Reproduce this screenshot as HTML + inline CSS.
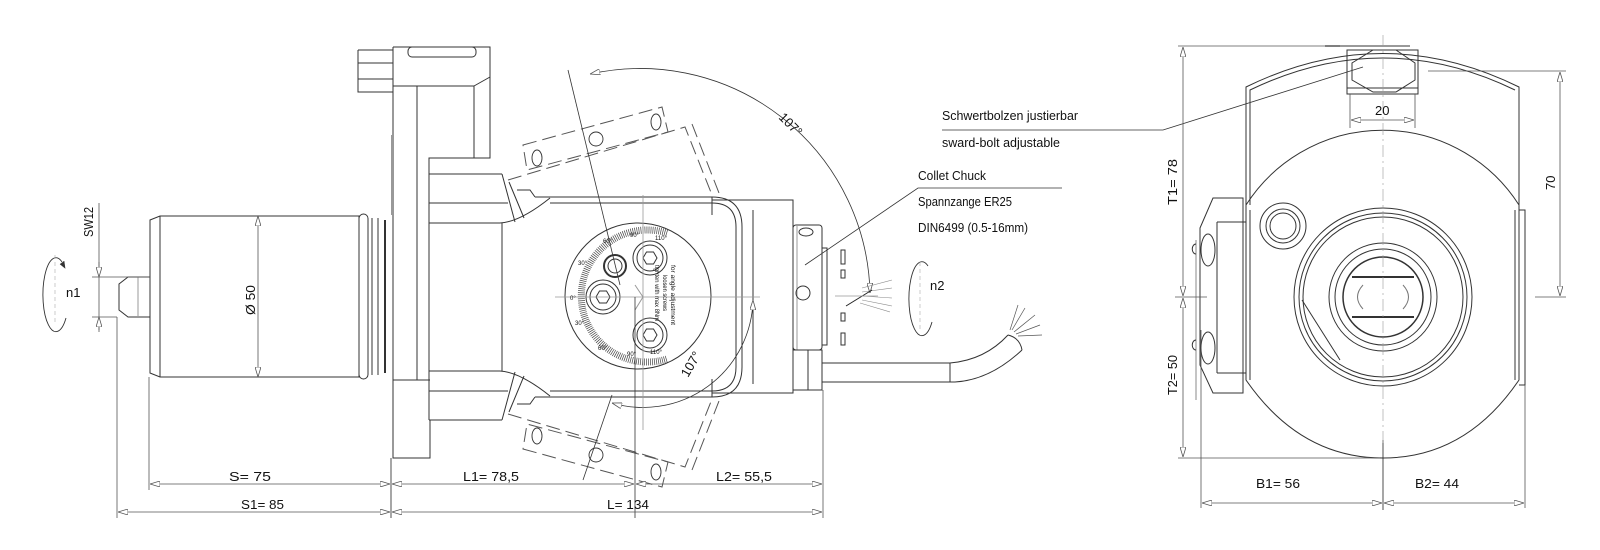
<!DOCTYPE html>
<html><head><meta charset="utf-8"><style>
html,body{margin:0;padding:0;background:#fff}
svg{display:block}
text{font-family:"Liberation Sans",sans-serif;fill:#111}
</style></head><body>
<svg width="1600" height="550" viewBox="0 0 1600 550" xmlns="http://www.w3.org/2000/svg">
<defs>
<marker id="ar" viewBox="0 0 10 6" refX="10" refY="3" markerWidth="10" markerHeight="6" orient="auto-start-reverse" markerUnits="userSpaceOnUse"><path d="M0,0 L10,3 L0,6 Z" fill="#fff" stroke="#555" stroke-width="0.8"/></marker>
</defs>
<g fill="none" stroke="#333" stroke-width="1">
<!-- shaft -->
<path d="M150,277 H128 L119,284 V310 L128,317 H150"/>
<line x1="138" y1="277" x2="138" y2="317" stroke="#999"/>
<!-- cylinder -->
<path d="M160,216 H359 V377 H160 L150,373 V220 Z"/>
<line x1="160" y1="216" x2="160" y2="377"/>
<rect x="359" y="214" width="9" height="165" rx="4.5"/>
<line x1="372" y1="218" x2="372" y2="375"/><line x1="378" y1="218" x2="378" y2="375"/>
<line x1="385" y1="220" x2="385" y2="373" stroke-width="2"/>
<!-- flange -->
<path d="M393,47 H490 V158 H429 V174 H502 M393,47 V458 H430 V420"/>
<path d="M358,50 H393 M358,50 V92 H393 M358,63 H393 M358,79 H393"/>
<line x1="392" y1="135" x2="392" y2="215" stroke="#999" stroke-width="2"/>
<rect x="408" y="47" width="68" height="10" rx="4"/>
<path d="M393,86 H474 V158 M474,86 L490,77"/>
<line x1="417" y1="86" x2="417" y2="380"/>
<line x1="393" y1="380" x2="430" y2="380"/>
<line x1="429" y1="174" x2="429" y2="420"/>
<!-- neck -->
<path d="M429,203 H508 M429,223 H500 Q520,222 550,198 M429,371 H500 Q520,372 550,396 M429,391 H508 M429,420 H502"/>
<path d="M502,174 L515,222 M502,420 L515,372 M517,190 H530 L535,197 M517,404 H530 L535,397 M502,223 V371"/>
<path d="M509,182 L524,218 M509,412 L524,376"/>
<!-- head -->
<path d="M535,197 H712 Q742,197 742,227 V367 Q742,397 712,397 H535"/>
<path d="M550,203 H712 Q736,203 736,227 V367 Q736,391 712,391 H550"/>
<path d="M712,200 H793 V393 H712 M753,210 V384"/>
<line x1="712" y1="197" x2="712" y2="215"/><line x1="712" y1="379" x2="712" y2="397"/>
<!-- collet nut -->
<rect x="793" y="225" width="29" height="125" rx="3"/>
<line x1="797" y1="225" x2="797" y2="350" stroke="#999"/>
<ellipse cx="806" cy="232" rx="7" ry="4"/>
<circle cx="803" cy="293" r="7"/>
<rect x="822" y="248" width="5" height="97"/>
<path d="M841,250 h4 v14 h-4 z M841,270 h4 v8 h-4 z M841,313 h4 v8 h-4 z M841,333 h4 v12 h-4 z"/>
<!-- cable -->
<path d="M793,350 H822 V390 H793 Z M808,350 V390"/>
<path d="M822,363 H950 Q985,360 1008,335 M822,382 H955 Q990,380 1022,350 M950,363 V382"/>
<path d="M1008,335 Q1020,338 1022,350"/>
<g stroke="#555" stroke-width="0.7"><line x1="1010" y1="330" x2="1018" y2="305"/><line x1="1012" y1="330" x2="1025" y2="308"/><line x1="1014" y1="332" x2="1035" y2="315"/><line x1="1016" y1="334" x2="1040" y2="325"/><line x1="1018" y1="336" x2="1042" y2="335"/></g>
<!-- dial -->
<circle cx="638" cy="296" r="73"/>
<path d="M667,233 A66,66 0 1 0 667,359" stroke-width="7" stroke-dasharray="0.7 1.3" stroke="#444"/>
<g>
<circle cx="650" cy="258" r="17"/><circle cx="650" cy="258" r="13"/><path d="M643,258 l3.5,-6 h7 l3.5,6 l-3.5,6 h-7 z"/>
<circle cx="603" cy="297" r="17"/><circle cx="603" cy="297" r="13"/><path d="M596,297 l3.5,-6 h7 l3.5,6 l-3.5,6 h-7 z"/>
<circle cx="650" cy="335" r="17"/><circle cx="650" cy="335" r="13"/><path d="M643,335 l3.5,-6 h7 l3.5,6 l-3.5,6 h-7 z"/>
<circle cx="615" cy="266" r="11" stroke-width="2"/><circle cx="615" cy="266" r="7"/>
</g>
<path d="M643,297 L635,285 M643,297 L635,310" stroke="#999"/>
<!-- dashed swung heads -->
<g stroke="#555" stroke-dasharray="14 6">
<path d="M523,145 L662,107 L668,132 L527,170 Z"/>
<path d="M508,180 L685,127 L712,195 M692,124 L719,193"/>
<path d="M523,449 L662,487 L668,462 L527,424 Z"/>
<path d="M508,414 L685,467 L712,399 M692,470 L719,401"/>
</g>
<g stroke-width="0.9"><ellipse cx="537" cy="158" rx="5" ry="8"/><circle cx="596" cy="139" r="7"/><ellipse cx="656" cy="122" rx="5" ry="8"/>
<ellipse cx="537" cy="436" rx="5" ry="8"/><circle cx="596" cy="455" r="7"/><ellipse cx="656" cy="472" rx="5" ry="8"/></g>
<!-- 107 arcs -->
<path d="M590,74 A230,230 0 0 1 870,293" stroke-width="0.8" marker-start="url(#ar)" marker-end="url(#ar)"/>
<line x1="568" y1="70" x2="620" y2="285" stroke-width="0.8"/>
<path d="M753,300 A110,110 0 0 1 612,403" stroke-width="0.8" marker-start="url(#ar)" marker-end="url(#ar)"/>
<line x1="583" y1="480" x2="612" y2="395" stroke-width="0.8"/>
<g stroke="#888" stroke-width="0.6"><line x1="862" y1="288" x2="892" y2="280"/><line x1="862" y1="292" x2="892" y2="288"/><line x1="862" y1="296" x2="892" y2="298"/><line x1="862" y1="300" x2="892" y2="306"/><line x1="860" y1="303" x2="890" y2="312"/></g>
<line x1="846" y1="306" x2="872" y2="290" stroke="#222"/>
<!-- center lines -->
<g stroke="#999" stroke-width="0.8">
<line x1="555" y1="297" x2="760" y2="297"/>
<line x1="835" y1="296" x2="878" y2="296"/>
<line x1="643" y1="195" x2="643" y2="430"/>
</g>
<line x1="635" y1="297" x2="635" y2="518" stroke-width="0.8"/>
<!-- leaders -->
<path d="M805,265 L918,188 H1062" stroke-width="0.8"/>
<path d="M942,130 H1163 L1363,67" stroke-width="0.8"/>
<!-- n symbols -->
<path d="M62,262 A13,37 0 1 0 66,318" stroke-width="0.9"/><path d="M60,264 l5,4 l-1,-7" fill="#333" stroke-width="0.6"/>
<line x1="55" y1="255" x2="55" y2="325" stroke="#aaa" stroke-dasharray="4 3" stroke-width="0.6"/>
<path d="M928,266 A13,37 0 1 0 932,322" stroke-width="0.9"/>
<line x1="920" y1="262" x2="920" y2="330" stroke="#aaa" stroke-dasharray="4 3" stroke-width="0.6"/>
<!-- dimensions left -->
<g stroke="#555" stroke-width="0.8">
<line x1="99" y1="203" x2="99" y2="330"/>
<line x1="99" y1="262" x2="99" y2="277" marker-end="url(#ar)"/>
<line x1="99" y1="332" x2="99" y2="317" marker-end="url(#ar)"/>
<line x1="92" y1="277" x2="150" y2="277"/><line x1="92" y1="317" x2="117" y2="317"/>
<line x1="258" y1="216" x2="258" y2="377" marker-start="url(#ar)" marker-end="url(#ar)"/>
<line x1="149" y1="377" x2="149" y2="490"/>
<line x1="117" y1="317" x2="117" y2="518"/>
<line x1="391" y1="458" x2="391" y2="518" stroke="#222"/>
<line x1="823" y1="390" x2="823" y2="518"/>
<line x1="150" y1="484" x2="390" y2="484" marker-start="url(#ar)" marker-end="url(#ar)"/>
<line x1="118" y1="512" x2="390" y2="512" marker-start="url(#ar)" marker-end="url(#ar)"/>
<line x1="392" y1="484" x2="634" y2="484" marker-start="url(#ar)" marker-end="url(#ar)"/>
<line x1="636" y1="484" x2="822" y2="484" marker-start="url(#ar)" marker-end="url(#ar)"/>
<line x1="392" y1="512" x2="822" y2="512" marker-start="url(#ar)" marker-end="url(#ar)"/>
</g>
<!-- RIGHT VIEW -->
<path d="M1246,205 V87 Q1383,20 1519,87 V205"/>
<path d="M1250,205 V90 Q1383,26 1515,90"/>
<rect x="1347" y="50" width="71" height="44"/>
<line x1="1347" y1="88" x2="1418" y2="88"/>
<path d="M1373,50 H1396 L1415,63 V80 L1396,92 H1373 L1352,80 V63 Z"/>
<line x1="1325" y1="46" x2="1410" y2="46" stroke="#999" stroke-width="2"/>
<path d="M1246,205 A162,162 0 0 1 1519,205"/>
<path d="M1246,205 V380 Q1300,458 1383,458 Q1466,458 1519,380 V205"/>
<path d="M1250,210 V380"/><path d="M1515,210 V380"/>
<circle cx="1383" cy="297" r="89"/><circle cx="1383" cy="297" r="84"/><circle cx="1383" cy="297" r="80"/>
<circle cx="1383" cy="297" r="54"/><circle cx="1383" cy="297" r="48"/><circle cx="1383" cy="297" r="40" stroke-width="1.5"/>
<path d="M1352,277 H1414 M1352,317 H1414" stroke-width="2"/>
<path d="M1363,285 Q1352,297 1363,309 M1403,285 Q1414,297 1403,309" stroke="#777"/>
<line x1="1302" y1="300" x2="1340" y2="360"/>
<circle cx="1283" cy="226" r="23"/><circle cx="1283" cy="226" r="17"/><circle cx="1283" cy="226" r="13"/>
<!-- left block -->
<path d="M1213,198 H1243 V393 H1213 L1200,365 V228 Z"/>
<path d="M1217,222 H1246 M1217,373 H1246 M1217,222 V373"/>
<ellipse cx="1208" cy="250" rx="7" ry="16"/><ellipse cx="1208" cy="348" rx="7" ry="16"/>
<path d="M1196,240 V400" stroke="#888"/>
<path d="M1196,244 a3,4 0 0 0 0,10 M1196,340 a3,4 0 0 0 0,10"/>
<path d="M1519,210 H1525 V385 H1519"/>
<!-- right dims -->
<g stroke="#555" stroke-width="0.8">
<line x1="1178" y1="46" x2="1340" y2="46"/>
<line x1="1178" y1="458" x2="1380" y2="458"/>
<line x1="1183" y1="47" x2="1183" y2="296" marker-start="url(#ar)" marker-end="url(#ar)"/>
<line x1="1183" y1="298" x2="1183" y2="457" marker-start="url(#ar)" marker-end="url(#ar)"/>
<line x1="1175" y1="297" x2="1207" y2="297"/>
<line x1="1560" y1="72" x2="1560" y2="296" marker-start="url(#ar)" marker-end="url(#ar)"/>
<line x1="1428" y1="71" x2="1566" y2="71"/><line x1="1535" y1="297" x2="1566" y2="297"/>
<line x1="1350" y1="94" x2="1350" y2="128"/><line x1="1415" y1="94" x2="1415" y2="128"/>
<line x1="1351" y1="120" x2="1414" y2="120" marker-start="url(#ar)" marker-end="url(#ar)"/>
<line x1="1201" y1="330" x2="1201" y2="508"/><line x1="1525" y1="385" x2="1525" y2="508"/>
<line x1="1383" y1="440" x2="1383" y2="510" stroke="#222"/>
<line x1="1202" y1="503" x2="1382" y2="503" marker-start="url(#ar)" marker-end="url(#ar)"/>
<line x1="1384" y1="503" x2="1524" y2="503" marker-start="url(#ar)" marker-end="url(#ar)"/>
</g>
<line x1="1383" y1="35" x2="1383" y2="445" stroke="#999" stroke-width="0.6" stroke-dasharray="12 4 2 4"/>
</g>
<!-- TEXT -->
<g font-size="13">
<text x="229" y="481" textLength="42" lengthAdjust="spacingAndGlyphs">S= 75</text>
<text x="241" y="509" textLength="43" lengthAdjust="spacingAndGlyphs">S1= 85</text>
<text x="463" y="481" textLength="56" lengthAdjust="spacingAndGlyphs">L1=   78,5</text>
<text x="716" y="481" textLength="56" lengthAdjust="spacingAndGlyphs">L2=   55,5</text>
<text x="607" y="509" textLength="42" lengthAdjust="spacingAndGlyphs">L=   134</text>
<text x="1256" y="488" textLength="44" lengthAdjust="spacingAndGlyphs">B1=   56</text>
<text x="1415" y="488" textLength="44" lengthAdjust="spacingAndGlyphs">B2=   44</text>
<text x="1375" y="115">20</text>
<text x="66" y="297">n1</text>
<text x="930" y="290">n2</text>
<text transform="translate(93,237) rotate(-90)" textLength="30" lengthAdjust="spacingAndGlyphs">SW12</text>
<text transform="translate(255,315) rotate(-90)" textLength="30" lengthAdjust="spacingAndGlyphs">Ø 50</text>
<text transform="translate(1177,205) rotate(-90)" textLength="46" lengthAdjust="spacingAndGlyphs">T1=    78</text>
<text transform="translate(1177,395) rotate(-90)" textLength="40" lengthAdjust="spacingAndGlyphs">T2=  50</text>
<text transform="translate(1555,190) rotate(-90)">70</text>
<text transform="translate(778,118) rotate(45)">107°</text>
<text transform="translate(688,378) rotate(-60)">107°</text>
<text x="942" y="120" textLength="136" lengthAdjust="spacingAndGlyphs">Schwertbolzen justierbar</text>
<text x="942" y="147" textLength="118" lengthAdjust="spacingAndGlyphs">sward-bolt adjustable</text>
<text x="918" y="180" textLength="68" lengthAdjust="spacingAndGlyphs">Collet Chuck</text>
<text x="918" y="206" textLength="94" lengthAdjust="spacingAndGlyphs">Spannzange ER25</text>
<text x="918" y="232" textLength="110" lengthAdjust="spacingAndGlyphs">DIN6499 (0.5-16mm)</text>
</g>
<g font-size="6">
<text x="603" y="243">60°</text><text x="630" y="237">90°</text><text x="655" y="240">110°</text>
<text x="578" y="265">30°</text><text x="570" y="300">0°</text><text x="575" y="325">30°</text>
<text x="598" y="350">60°</text><text x="627" y="356">90°</text><text x="650" y="354">110°</text>
<text transform="translate(671,265) rotate(90)" textLength="60" lengthAdjust="spacingAndGlyphs">for angle adjustment</text>
<text transform="translate(663,275) rotate(90)" textLength="36" lengthAdjust="spacingAndGlyphs">loosen screws</text>
<text transform="translate(655,265) rotate(90)" textLength="56" lengthAdjust="spacingAndGlyphs">tighten with max 8Nm</text>
</g>
</svg>
</body></html>
